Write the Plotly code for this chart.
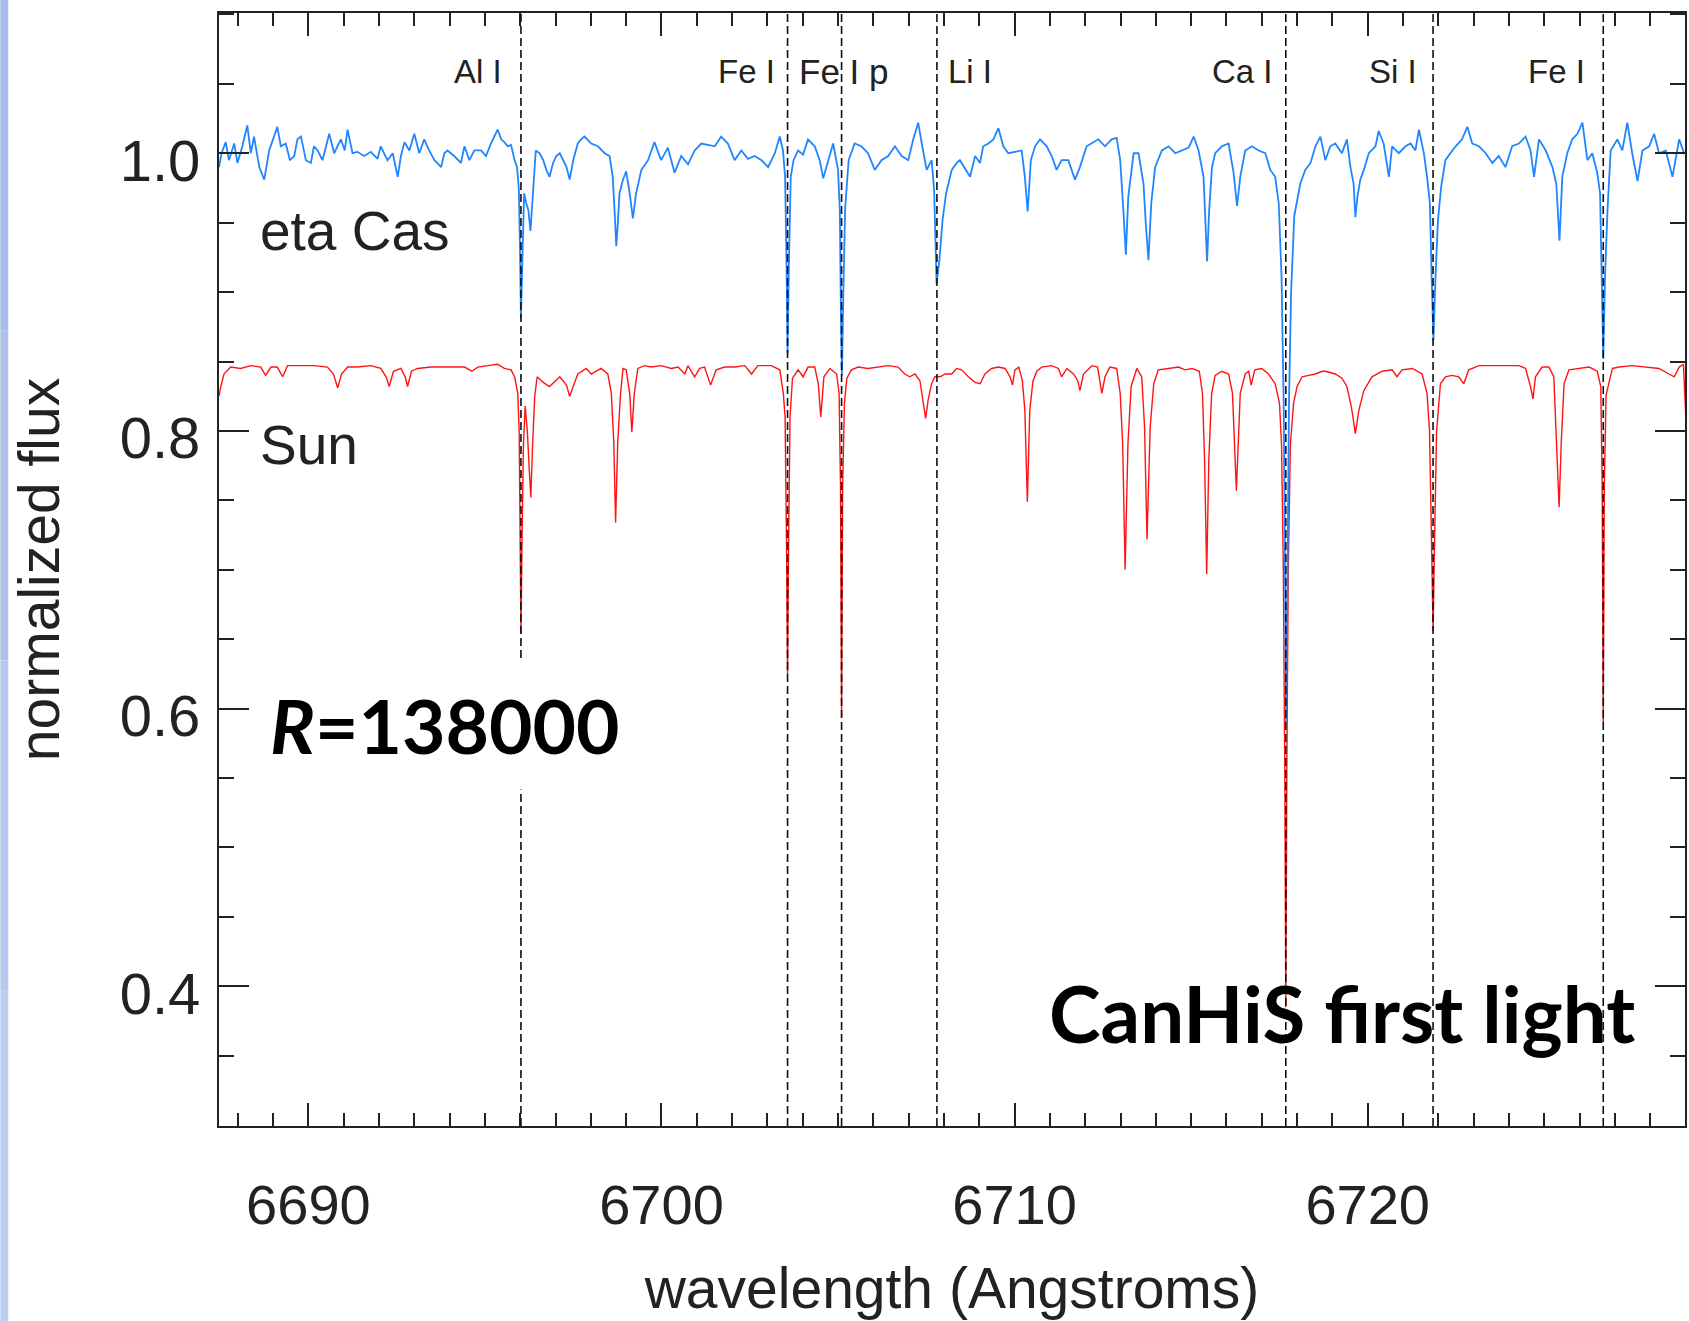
import plotly.graph_objects as go

# ---------------- data ----------------
etacas_wl = [
    6687.47, 6687.54, 6687.66, 6687.75, 6687.90, 6687.99, 6688.13, 6688.27, 6688.37, 6688.46,
    6688.61, 6688.75, 6688.89, 6689.12, 6689.22, 6689.36, 6689.48, 6689.60, 6689.69, 6689.79,
    6689.93, 6690.07, 6690.16, 6690.26, 6690.40, 6690.59, 6690.73, 6690.92, 6691.03, 6691.11,
    6691.25, 6691.39, 6691.58, 6691.77, 6691.96, 6692.05, 6692.24, 6692.39, 6692.53, 6692.62,
    6692.72, 6692.86, 6693.00, 6693.14, 6693.28, 6693.42, 6693.57, 6693.76, 6693.85, 6693.94,
    6694.13, 6694.32, 6694.42, 6694.56, 6694.70, 6694.89, 6695.03, 6695.17, 6695.36, 6695.46,
    6695.55, 6695.65, 6695.74, 6695.84, 6695.91, 6695.96, 6695.99, 6696.02, 6696.06, 6696.11,
    6696.17, 6696.23, 6696.29, 6696.36, 6696.44, 6696.55, 6696.65, 6696.74, 6696.83, 6696.93,
    6697.02, 6697.12, 6697.21, 6697.31, 6697.40, 6697.50, 6697.63, 6697.72, 6697.82,
    6698.01, 6698.20, 6698.39, 6698.53, 6698.62, 6698.67, 6698.72, 6698.77, 6698.81, 6698.91,
    6699.00, 6699.10, 6699.19, 6699.28, 6699.43, 6699.62, 6699.80, 6699.99, 6700.18, 6700.37,
    6700.56, 6700.75, 6700.94, 6701.13, 6701.32, 6701.51, 6701.69, 6701.88, 6702.07, 6702.26,
    6702.45, 6702.64, 6702.83, 6703.02, 6703.21, 6703.35, 6703.44, 6703.50, 6703.54, 6703.57,
    6703.61, 6703.66, 6703.74, 6703.87, 6704.01, 6704.15, 6704.34, 6704.48, 6704.58, 6704.72,
    6704.86, 6705.00, 6705.05, 6705.08, 6705.11, 6705.15, 6705.20, 6705.30, 6705.47, 6705.66,
    6705.85, 6706.04, 6706.23, 6706.42, 6706.61, 6706.80, 6706.99, 6707.13, 6707.27, 6707.37,
    6707.51, 6707.65, 6707.72, 6707.79, 6707.87, 6707.96, 6708.06, 6708.22, 6708.36,
    6708.45, 6708.59, 6708.74, 6708.88, 6709.02, 6709.11, 6709.26, 6709.40, 6709.54, 6709.68,
    6709.82, 6710.01, 6710.20, 6710.29, 6710.37, 6710.46, 6710.58, 6710.72, 6710.91, 6711.05,
    6711.19, 6711.33, 6711.52, 6711.71, 6711.85, 6712.04, 6712.19, 6712.37, 6712.56, 6712.75,
    6712.89, 6712.99, 6713.08, 6713.15, 6713.22, 6713.37, 6713.51, 6713.65, 6713.72, 6713.79,
    6713.87, 6713.98, 6714.17, 6714.36, 6714.55, 6714.74, 6714.93, 6715.07, 6715.21, 6715.35,
    6715.40, 6715.45, 6715.51, 6715.59, 6715.68, 6715.87, 6716.06, 6716.20, 6716.30, 6716.39,
    6716.53, 6716.72, 6716.91, 6717.10, 6717.24, 6717.38, 6717.48, 6717.56, 6717.62, 6717.66,
    6717.69, 6717.73, 6717.77, 6717.83, 6717.92, 6718.09, 6718.23, 6718.38, 6718.52, 6718.66,
    6718.80, 6718.94, 6719.08, 6719.27, 6719.41, 6719.51, 6719.60, 6719.65, 6719.71, 6719.79,
    6719.89, 6720.03, 6720.22, 6720.31, 6720.45, 6720.60, 6720.69, 6720.88, 6721.07, 6721.21,
    6721.35, 6721.45, 6721.59, 6721.68, 6721.76, 6721.81, 6721.86, 6721.92, 6721.99, 6722.08,
    6722.20, 6722.34, 6722.49, 6722.67, 6722.82, 6722.96, 6723.15, 6723.34, 6723.53, 6723.71,
    6723.90, 6724.09, 6724.28, 6724.47, 6724.61, 6724.71, 6724.85, 6725.04, 6725.23, 6725.34,
    6725.43, 6725.51, 6725.65, 6725.79, 6725.94, 6726.08, 6726.22, 6726.36, 6726.50, 6726.58,
    6726.63, 6726.67, 6726.72, 6726.79, 6726.88, 6727.07, 6727.21, 6727.35, 6727.49, 6727.64,
    6727.78, 6727.97, 6728.11, 6728.25, 6728.44, 6728.63, 6728.82, 6728.96, 6729.10,
]
etacas_flux = [
    0.990, 1.000, 1.008, 0.995, 1.007, 0.993, 1.005, 1.020, 1.000, 1.012,
    0.990, 0.981, 1.002, 1.019, 1.005, 1.007, 0.995, 0.998, 1.010, 1.012,
    0.995, 0.993, 1.005, 1.002, 0.995, 1.014, 1.000, 1.010, 1.002, 1.017,
    1.000, 1.001, 0.998, 1.001, 0.996, 1.005, 0.995, 1.000, 0.983, 0.998,
    1.008, 1.002, 1.014, 1.000, 1.010, 1.002, 0.995, 0.990, 1.000, 1.002,
    0.998, 0.993, 1.005, 0.995, 1.002, 1.002, 0.998, 1.007, 1.017, 1.010,
    1.008, 1.005, 1.006, 0.995, 0.990, 0.974, 0.935, 0.881, 0.923, 0.971,
    0.964, 0.959, 0.944, 0.971, 1.002, 1.000, 0.995, 0.988, 0.983, 0.993,
    0.998, 1.000, 0.995, 0.990, 0.981, 0.995, 1.007, 1.010, 1.012,
    1.007, 1.005, 1.000, 0.998, 0.983, 0.959, 0.933, 0.952, 0.971, 0.981,
    0.987, 0.971, 0.953, 0.971, 0.988, 0.995, 1.008, 0.995, 1.004, 0.986,
    0.998, 0.992, 1.002, 1.007, 1.006, 1.005, 1.012, 1.007, 0.995, 1.002,
    0.996, 0.998, 0.995, 0.990, 1.000, 1.012, 1.002, 0.983, 0.923, 0.856,
    0.923, 0.983, 0.995, 1.002, 0.999, 1.010, 1.005, 0.995, 0.982, 0.995,
    1.007, 0.988, 0.959, 0.887, 0.840, 0.900, 0.960, 0.995, 1.007, 1.005,
    1.000, 0.988, 0.995, 0.998, 1.005, 0.998, 0.995, 1.010, 1.022, 1.007,
    0.988, 0.995, 0.974, 0.906, 0.923, 0.952, 0.971, 0.988, 0.993,
    0.995, 0.989, 0.983, 0.998, 0.993, 1.005, 1.007, 1.010, 1.018, 1.005,
    1.000, 1.001, 1.002, 0.983, 0.958, 0.995, 1.005, 1.010, 1.005, 0.998,
    0.988, 0.995, 0.995, 0.981, 0.990, 1.005, 1.007, 1.010, 1.005, 1.010,
    1.011, 0.995, 0.959, 0.927, 0.969, 1.000, 1.000, 0.978, 0.947, 0.923,
    0.964, 0.990, 1.002, 1.005, 1.000, 1.002, 1.004, 1.012, 1.002, 0.983,
    0.952, 0.922, 0.959, 0.990, 1.000, 1.005, 1.007, 0.986, 0.962, 0.983,
    1.002, 1.005, 1.002, 1.000, 0.988, 0.983, 0.964, 0.911, 0.820, 0.700,
    0.590, 0.700, 0.820, 0.900, 0.955, 0.978, 0.988, 0.993, 1.005, 1.012,
    0.995, 1.005, 1.007, 1.000, 1.010, 0.990, 0.978, 0.954, 0.969, 0.981,
    0.988, 1.000, 1.005, 1.016, 1.007, 0.983, 1.005, 1.000, 1.005, 1.007,
    1.002, 1.017, 1.000, 0.983, 0.964, 0.911, 0.865, 0.911, 0.952, 0.976,
    0.995, 1.000, 1.005, 1.010, 1.019, 1.007, 1.005, 1.000, 0.993, 0.998,
    0.990, 1.005, 1.007, 1.012, 1.002, 0.983, 1.010, 1.002, 0.990, 0.978,
    0.937, 0.983, 1.000, 1.010, 1.014, 1.022, 0.995, 1.000, 0.986, 0.971,
    0.911, 0.852, 0.911, 0.959, 1.002, 1.010, 1.002, 1.022, 1.000, 0.980,
    1.002, 1.005, 1.014, 1.000, 1.002, 0.983, 1.010, 1.000, 1.002,
]

sun_wl = [
    6687.47, 6687.52, 6687.61, 6687.80, 6688.08, 6688.37, 6688.65, 6688.79, 6688.94, 6689.12,
    6689.27, 6689.41, 6689.79, 6690.16, 6690.54, 6690.71, 6690.83, 6690.94, 6691.11, 6691.39,
    6691.77, 6692.05, 6692.20, 6692.29, 6692.41, 6692.62, 6692.74, 6692.81, 6692.92, 6693.09,
    6693.47, 6693.94, 6694.42, 6694.63, 6694.80, 6695.08, 6695.36, 6695.55, 6695.74, 6695.84,
    6695.93, 6695.97, 6696.00, 6696.02, 6696.05, 6696.09, 6696.14, 6696.20, 6696.26, 6696.30,
    6696.35, 6696.41, 6696.48, 6696.65, 6696.83, 6697.00, 6697.12, 6697.31, 6697.40, 6697.50,
    6697.63, 6697.87, 6698.01, 6698.29, 6698.48, 6698.58, 6698.65, 6698.70, 6698.76, 6698.84,
    6698.91, 6699.00, 6699.10, 6699.16, 6699.23, 6699.33, 6699.52, 6699.71, 6699.99, 6700.28,
    6700.47, 6700.66, 6700.75, 6700.94, 6701.08, 6701.22, 6701.39, 6701.55, 6701.79, 6702.07,
    6702.36, 6702.55, 6702.73, 6703.11, 6703.35, 6703.45, 6703.50, 6703.54, 6703.57, 6703.60,
    6703.64, 6703.71, 6703.87, 6704.01, 6704.15, 6704.34, 6704.44, 6704.51, 6704.60, 6704.77,
    6704.96, 6705.03, 6705.07, 6705.10, 6705.13, 6705.18, 6705.25, 6705.38, 6705.57, 6705.85,
    6706.14, 6706.42, 6706.70, 6706.89, 6707.03, 6707.18, 6707.32, 6707.41, 6707.48, 6707.55,
    6707.65, 6707.74, 6707.89, 6708.03, 6708.22, 6708.36, 6708.50, 6708.69, 6708.88, 6709.02,
    6709.16, 6709.35, 6709.54, 6709.73, 6709.87, 6709.94, 6710.01, 6710.12, 6710.22, 6710.29,
    6710.36, 6710.43, 6710.52, 6710.63, 6710.77, 6711.05, 6711.24, 6711.33, 6711.48, 6711.67,
    6711.79, 6711.85, 6711.95, 6712.19, 6712.35, 6712.47, 6712.56, 6712.70, 6712.89, 6712.99,
    6713.06, 6713.13, 6713.21, 6713.30, 6713.46, 6713.60, 6713.68, 6713.75, 6713.84, 6713.94,
    6714.07, 6714.36, 6714.64, 6714.83, 6715.02, 6715.23, 6715.32, 6715.38, 6715.44, 6715.50,
    6715.58, 6715.68, 6715.87, 6716.06, 6716.17, 6716.28, 6716.39, 6716.53, 6716.63, 6716.70,
    6716.80, 6717.00, 6717.19, 6717.38, 6717.50, 6717.56, 6717.61, 6717.65, 6717.68, 6717.71,
    6717.75, 6717.81, 6717.90, 6718.00, 6718.14, 6718.33, 6718.52, 6718.71, 6718.80, 6719.08,
    6719.27, 6719.41, 6719.54, 6719.65, 6719.75, 6719.89, 6720.12, 6720.41, 6720.69, 6720.83,
    6720.97, 6721.26, 6721.54, 6721.68, 6721.75, 6721.80, 6721.85, 6721.90, 6721.95, 6722.06,
    6722.20, 6722.39, 6722.58, 6722.72, 6722.86, 6723.15, 6723.53, 6723.90, 6724.28, 6724.47,
    6724.61, 6724.68, 6724.75, 6724.94, 6725.13, 6725.27, 6725.35, 6725.42, 6725.48, 6725.56,
    6725.70, 6725.98, 6726.27, 6726.50, 6726.60, 6726.64, 6726.67, 6726.70, 6726.75, 6726.93,
    6727.12, 6727.49, 6727.87, 6728.25, 6728.53, 6728.68, 6728.82, 6728.94, 6729.00, 6729.06,
]
sun_flux = [
    0.825, 0.832, 0.841, 0.846, 0.845, 0.847, 0.846, 0.840, 0.846, 0.846,
    0.839, 0.847, 0.847, 0.847, 0.846, 0.841, 0.831, 0.841, 0.846, 0.846,
    0.847, 0.845, 0.839, 0.832, 0.843, 0.845, 0.839, 0.832, 0.843, 0.845,
    0.846, 0.846, 0.846, 0.843, 0.846, 0.847, 0.848, 0.845, 0.844, 0.839,
    0.827, 0.800, 0.720, 0.654, 0.720, 0.790, 0.818, 0.800, 0.770, 0.752,
    0.790, 0.825, 0.839, 0.835, 0.832, 0.836, 0.839, 0.833, 0.825, 0.832,
    0.841, 0.845, 0.841, 0.845, 0.841, 0.827, 0.791, 0.734, 0.791, 0.827,
    0.845, 0.844, 0.827, 0.799, 0.827, 0.845, 0.847, 0.846, 0.847, 0.845,
    0.846, 0.841, 0.847, 0.839, 0.845, 0.846, 0.833, 0.844, 0.846, 0.846,
    0.847, 0.841, 0.847, 0.847, 0.844, 0.827, 0.810, 0.720, 0.625, 0.720,
    0.810, 0.838, 0.844, 0.839, 0.846, 0.846, 0.834, 0.810, 0.839, 0.845,
    0.841, 0.827, 0.760, 0.594, 0.760, 0.820, 0.838, 0.844, 0.846, 0.845,
    0.846, 0.847, 0.846, 0.841, 0.839, 0.841, 0.836, 0.822, 0.809, 0.822,
    0.834, 0.839, 0.839, 0.841, 0.841, 0.845, 0.844, 0.839, 0.835, 0.834,
    0.841, 0.845, 0.846, 0.845, 0.839, 0.833, 0.844, 0.846, 0.836, 0.815,
    0.749, 0.815, 0.836, 0.843, 0.846, 0.847, 0.845, 0.839, 0.845, 0.841,
    0.836, 0.829, 0.841, 0.847, 0.846, 0.827, 0.839, 0.846, 0.845, 0.827,
    0.791, 0.700, 0.791, 0.832, 0.845, 0.839, 0.803, 0.722, 0.803, 0.834,
    0.844, 0.845, 0.846, 0.844, 0.845, 0.843, 0.827, 0.779, 0.697, 0.779,
    0.827, 0.840, 0.843, 0.841, 0.827, 0.757, 0.827, 0.841, 0.843, 0.833,
    0.844, 0.845, 0.841, 0.834, 0.820, 0.790, 0.700, 0.560, 0.385, 0.560,
    0.700, 0.790, 0.820, 0.832, 0.839, 0.840, 0.841, 0.843, 0.843, 0.841,
    0.838, 0.832, 0.817, 0.798, 0.815, 0.829, 0.839, 0.843, 0.844, 0.839,
    0.844, 0.845, 0.841, 0.827, 0.800, 0.730, 0.656, 0.730, 0.800, 0.834,
    0.839, 0.840, 0.839, 0.834, 0.844, 0.847, 0.847, 0.847, 0.847, 0.845,
    0.832, 0.823, 0.839, 0.846, 0.846, 0.839, 0.791, 0.745, 0.791, 0.834,
    0.844, 0.845, 0.846, 0.843, 0.832, 0.760, 0.590, 0.760, 0.826, 0.845,
    0.846, 0.847, 0.846, 0.845, 0.841, 0.839, 0.846, 0.848, 0.815, 0.770,
]

line_wl = [6696.02, 6703.57, 6705.10, 6707.80, 6717.68, 6721.85, 6726.67]
line_labels = ["Al I", "Fe I", "Fe I p", "Li I", "Ca I", "Si I", "Fe I"]

x_ticks = [6690, 6700, 6710, 6720]
y_ticks = [0.4, 0.6, 0.8, 1.0]

# ---------------- styling / layout ----------------
W, H = 1689, 1321
ML, MR, MT, MB = 219, 2, 13, 195
PW = W - ML - MR
PH = H - MT - MB
AXIS_FONT = "Liberation Sans, Arial, Helvetica, sans-serif"
TXT = "#222222"

fig = go.Figure()
fig.add_trace(go.Scatter(x=sun_wl, y=sun_flux, mode="lines",
                         line=dict(color="#ff1414", width=1.4), name="Sun"))
fig.add_trace(go.Scatter(x=etacas_wl, y=etacas_flux, mode="lines",
                         line=dict(color="#1f86ff", width=1.8), name="eta Cas"))

# dashed line markers
for wl in line_wl:
    fig.add_shape(type="line", xref="x", yref="paper", x0=wl, x1=wl, y0=0, y1=1,
                  line=dict(color="#111111", width=1.6, dash="8px,4px"), layer="above")

# line labels
label_anchor = ["right", "right", "left", "left", "right", "right", "right"]
label_shift = [-17, -11, -45, 9, -11, -14, -16]
label_size = [33, 33, 35, 33, 33, 33, 33]
for wl, lab, anc, sh, fs in zip(line_wl, line_labels, label_anchor, label_shift, label_size):
    fig.add_annotation(x=wl, y=1.059, xref="x", yref="y", text=lab, showarrow=False,
                       xanchor=anc, yanchor="middle", xshift=sh,
                       font=dict(family=AXIS_FONT, size=fs, color=TXT))

# star labels
fig.add_annotation(x=6688.586, y=0.944, xref="x", yref="y", text="eta Cas", showarrow=False,
                   xanchor="left", yanchor="middle",
                   font=dict(family=AXIS_FONT, size=55, color=TXT))
fig.add_annotation(x=6688.586, y=0.790, xref="x", yref="y", text="Sun", showarrow=False,
                   xanchor="left", yanchor="middle",
                   font=dict(family=AXIS_FONT, size=55, color=TXT))

# big overlay texts
fig.add_annotation(x=6688.346, y=0.588, xref="x", yref="y",
                   text="<b><i>R</i>=138000</b>", showarrow=False,
                   xanchor="left", yanchor="middle", bgcolor="white", borderpad=19,
                   font=dict(family="Lato, sans-serif", size=75, color="black"))
fig.add_annotation(x=6719.26, y=0.381, xref="x", yref="y",
                   text="<b>CanHiS first light</b>", showarrow=False,
                   xanchor="center", yanchor="middle",
                   font=dict(family="Lato, sans-serif", size=78, color="black"))

# light-blue strip at the left edge of the slide
strip_cols = ["#a7bce7", "#afc2e9", "#b6c8eb", "#bccdee"]
n = len(strip_cols)
y_lo, y_hi = -MB / PH, (H - MB) / PH
for i, c in enumerate(strip_cols):
    fig.add_shape(type="rect", xref="paper", yref="paper",
                  x0=-ML / PW, x1=(8 - ML) / PW,
                  y0=y_hi - (i + 1) * (y_hi - y_lo) / n, y1=y_hi - i * (y_hi - y_lo) / n,
                  fillcolor=c, line=dict(width=0), layer="above")

axis_common = dict(
    showgrid=False, zeroline=False, showline=True, linewidth=2, linecolor=TXT,
    mirror="ticks", ticks="inside", tickcolor=TXT, tickwidth=1.8,
)

fig.update_layout(
    width=W, height=H,
    margin=dict(l=ML, r=MR, t=MT, b=MB, pad=0),
    paper_bgcolor="white", plot_bgcolor="white",
    showlegend=False,
    xaxis=dict(
        **axis_common,
        range=[6687.469, 6728.985],
        tickmode="array", tickvals=x_ticks, ticktext=[str(v) for v in x_ticks],
        ticklen=23,
        minor=dict(dtick=1, tick0=6690, ticks="inside", ticklen=13, tickwidth=1.8, tickcolor=TXT),
        ticklabelstandoff=29,
        tickfont=dict(family=AXIS_FONT, size=56, color=TXT),
        title=dict(text="wavelength (Angstroms)", standoff=33,
                   font=dict(family=AXIS_FONT, size=57, color=TXT)),
    ),
    yaxis=dict(
        **axis_common,
        range=[0.2994, 1.101],
        tickmode="array", tickvals=y_ticks, ticktext=["%.1f" % v for v in y_ticks],
        ticklen=30,
        minor=dict(dtick=0.05, tick0=0, ticks="inside", ticklen=15, tickwidth=1.8, tickcolor=TXT),
        ticklabelstandoff=5,
        ticklabelshift=7,
        tickfont=dict(family=AXIS_FONT, size=58, color=TXT),
        title=dict(text="normalized flux", standoff=42,
                   font=dict(family=AXIS_FONT, size=57, color=TXT)),
    ),
)

fig.write_html("out.html")
